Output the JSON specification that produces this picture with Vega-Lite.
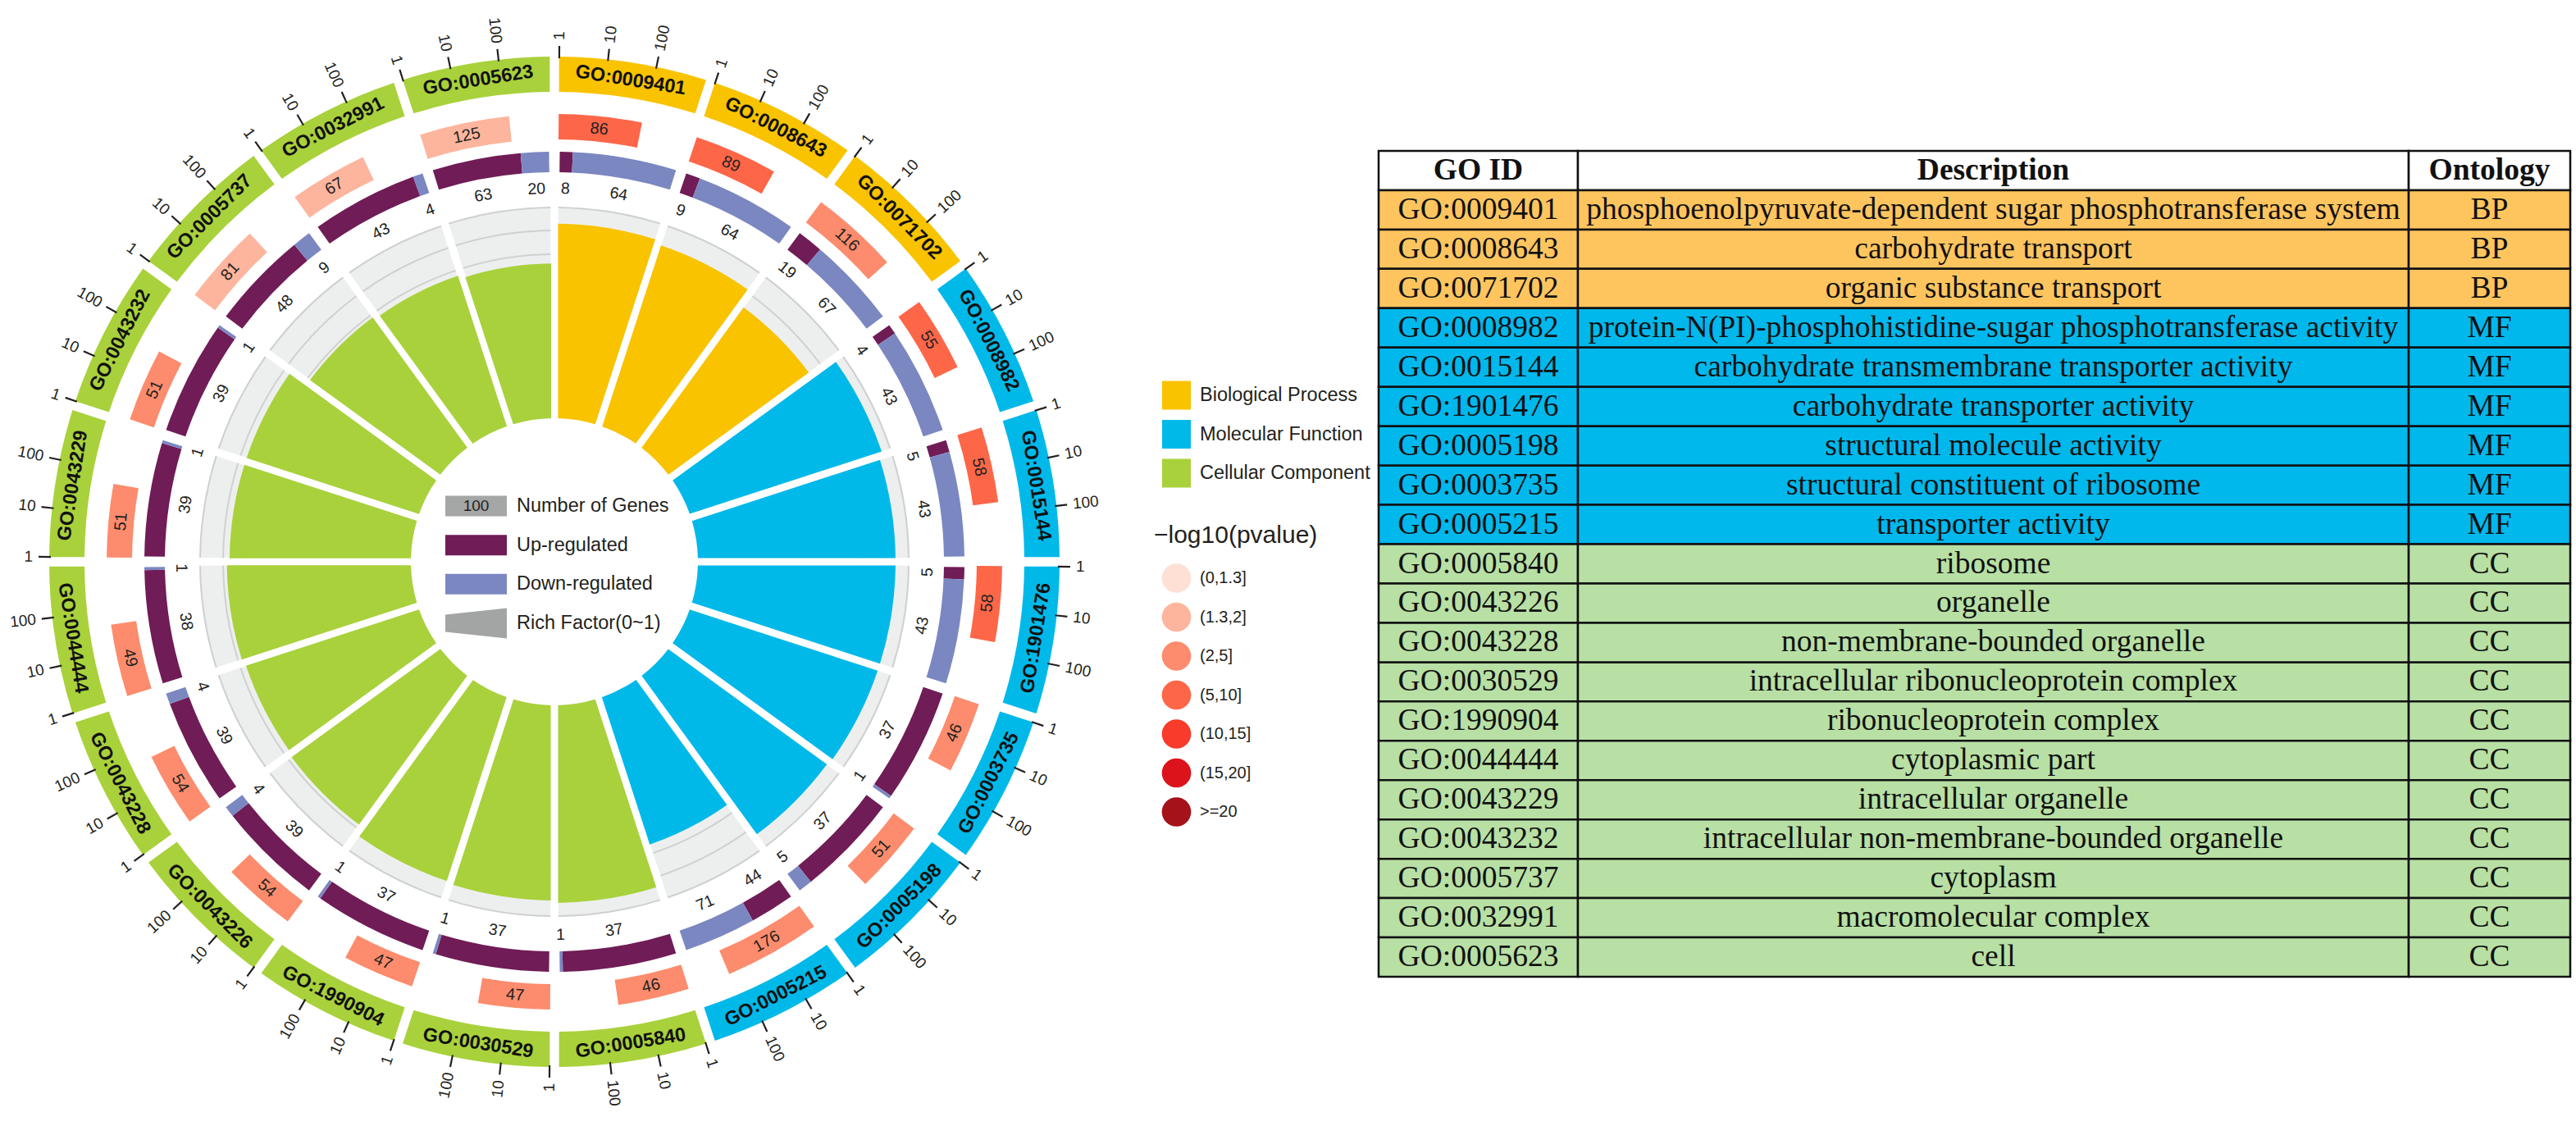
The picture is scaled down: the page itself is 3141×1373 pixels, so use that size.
{
"$schema":"https://vega.github.io/schema/vega-lite/v6.json",
"padding":0,"spacing":0,"bounds":"flush","background":"#ffffff",
"config":{"view":{"stroke":null},"text":{"font":"Liberation Sans"}},
"datasets":{
"terms":[
{"idx":0,"go":"GO:0009401","ont":"BP","count":86,"up":8,"down":64,"rich":0.93,"p":"(5,10]","desc":"phosphoenolpyruvate-dependent sugar phosphotransferase system"},
{"idx":1,"go":"GO:0008643","ont":"BP","count":89,"up":9,"down":64,"rich":0.91,"p":"(5,10]","desc":"carbohydrate transport"},
{"idx":2,"go":"GO:0071702","ont":"BP","count":116,"up":19,"down":67,"rich":0.83,"p":"(2,5]","desc":"organic substance transport"},
{"idx":3,"go":"GO:0008982","ont":"MF","count":55,"up":4,"down":43,"rich":0.965,"p":"(5,10]","desc":"protein-N(PI)-phosphohistidine-sugar phosphotransferase activity"},
{"idx":4,"go":"GO:0015144","ont":"MF","count":58,"up":5,"down":43,"rich":0.945,"p":"(5,10]","desc":"carbohydrate transmembrane transporter activity"},
{"idx":5,"go":"GO:1901476","ont":"MF","count":58,"up":5,"down":43,"rich":0.945,"p":"(5,10]","desc":"carbohydrate transporter activity"},
{"idx":6,"go":"GO:0003735","ont":"MF","count":46,"up":37,"down":1,"rich":0.945,"p":"(2,5]","desc":"structural constituent of ribosome"},
{"idx":7,"go":"GO:0005198","ont":"MF","count":51,"up":37,"down":5,"rich":0.937,"p":"(2,5]","desc":"structural molecule activity"},
{"idx":8,"go":"GO:0005215","ont":"MF","count":176,"up":44,"down":71,"rich":0.74,"p":"(2,5]","desc":"transporter activity"},
{"idx":9,"go":"GO:0005840","ont":"CC","count":46,"up":37,"down":1,"rich":0.945,"p":"(2,5]","desc":"ribosome"},
{"idx":10,"go":"GO:0030529","ont":"CC","count":47,"up":37,"down":1,"rich":0.933,"p":"(2,5]","desc":"intracellular ribonucleoprotein complex"},
{"idx":11,"go":"GO:1990904","ont":"CC","count":47,"up":37,"down":1,"rich":0.925,"p":"(2,5]","desc":"ribonucleoprotein complex"},
{"idx":12,"go":"GO:0043226","ont":"CC","count":54,"up":39,"down":4,"rich":0.88,"p":"(2,5]","desc":"organelle"},
{"idx":13,"go":"GO:0043228","ont":"CC","count":54,"up":39,"down":4,"rich":0.87,"p":"(2,5]","desc":"non-membrane-bounded organelle"},
{"idx":14,"go":"GO:0044444","ont":"CC","count":49,"up":38,"down":1,"rich":0.88,"p":"(2,5]","desc":"cytoplasmic part"},
{"idx":15,"go":"GO:0043229","ont":"CC","count":51,"up":39,"down":1,"rich":0.867,"p":"(2,5]","desc":"intracellular organelle"},
{"idx":16,"go":"GO:0043232","ont":"CC","count":51,"up":39,"down":1,"rich":0.867,"p":"(2,5]","desc":"intracellular non-membrane-bounded organelle"},
{"idx":17,"go":"GO:0005737","ont":"CC","count":81,"up":48,"down":9,"rich":0.77,"p":"(1.3,2]","desc":"cytoplasm"},
{"idx":18,"go":"GO:0032991","ont":"CC","count":67,"up":43,"down":4,"rich":0.757,"p":"(1.3,2]","desc":"macromolecular complex"},
{"idx":19,"go":"GO:0005623","ont":"CC","count":125,"up":63,"down":20,"rich":0.74,"p":"(1.3,2]","desc":"cell"}
],
"ticks":[
{"idx":0,"v":1},{"idx":0,"v":10},{"idx":0,"v":100},{"idx":1,"v":1},{"idx":1,"v":10},{"idx":1,"v":100},
{"idx":2,"v":1},{"idx":2,"v":10},{"idx":2,"v":100},{"idx":3,"v":1},{"idx":3,"v":10},{"idx":3,"v":100},
{"idx":4,"v":1},{"idx":4,"v":10},{"idx":4,"v":100},{"idx":5,"v":1},{"idx":5,"v":10},{"idx":5,"v":100},
{"idx":6,"v":1},{"idx":6,"v":10},{"idx":6,"v":100},{"idx":7,"v":1},{"idx":7,"v":10},{"idx":7,"v":100},
{"idx":8,"v":1},{"idx":8,"v":10},{"idx":8,"v":100},{"idx":9,"v":1},{"idx":9,"v":10},{"idx":9,"v":100},
{"idx":10,"v":1},{"idx":10,"v":10},{"idx":10,"v":100},{"idx":11,"v":1},{"idx":11,"v":10},{"idx":11,"v":100},
{"idx":12,"v":1},{"idx":12,"v":10},{"idx":12,"v":100},{"idx":13,"v":1},{"idx":13,"v":10},{"idx":13,"v":100},
{"idx":14,"v":1},{"idx":14,"v":10},{"idx":14,"v":100},{"idx":15,"v":1},{"idx":15,"v":10},{"idx":15,"v":100},
{"idx":16,"v":1},{"idx":16,"v":10},{"idx":16,"v":100},{"idx":17,"v":1},{"idx":17,"v":10},{"idx":17,"v":100},
{"idx":18,"v":1},{"idx":18,"v":10},{"idx":18,"v":100},{"idx":19,"v":1},{"idx":19,"v":10},{"idx":19,"v":100}
],
"ileg":[{"item":"Number of Genes"},{"item":"Up-regulated"},{"item":"Down-regulated"},{"item":"Rich Factor(0~1)"}],
"oleg":[{"ont":"BP","lab":"Biological Process"},{"ont":"MF","lab":"Molecular Function"},{"ont":"CC","lab":"Cellular Component"}],
"pleg":[{"p":"(0,1.3]"},{"p":"(1.3,2]"},{"p":"(2,5]"},{"p":"(5,10]"},{"p":"(10,15]"},{"p":"(15,20]"},{"p":">=20"}],
"ptitle":[{"t":"−log10(pvalue)"}],
"hdr":[{"go":"header","c1":"GO ID","c2":"Description","c3":"Ontology"}]
},
"hconcat":[
{
"width":1352,"height":1370,
"layer":[
{
"data":{"name":"terms"},
"transform":[
{"calculate":"datum.idx*18","as":"b0"},
{"calculate":"datum.idx*18+18","as":"b1"},
{"calculate":"datum.idx*18+9","as":"mid"},
{"calculate":"datum.idx*18+0.75","as":"rs"},
{"calculate":"datum.idx*18+17.25","as":"re"},
{"calculate":"datum.rs+16.5*datum.up/(datum.up+datum.down)","as":"um"},
{"calculate":"(datum.rs+datum.um)/2","as":"upm"},
{"calculate":"(datum.um+datum.re)/2","as":"dnm"},
{"calculate":"datum.idx*18+0.55","as":"c0"},
{"calculate":"datum.c0+5.55*log(datum.count)/LN10","as":"c1"},
{"calculate":"(datum.c0+datum.c1)/2","as":"cm"},
{"calculate":"(datum.mid>90 && datum.mid<270) ? datum.mid+180 : datum.mid","as":"amid0"},
{"calculate":"(datum.cm>90 && datum.cm<270) ? datum.cm+180 : datum.cm","as":"acm0"},
{"calculate":"(datum.upm>90 && datum.upm<270) ? datum.upm+180 : datum.upm","as":"aup0"},
{"calculate":"(datum.dnm>90 && datum.dnm<270) ? datum.dnm+180 : datum.dnm","as":"adn0"},
{"calculate":"datum.amid0%360","as":"amid"},
{"calculate":"datum.acm0%360","as":"acm"},
{"calculate":"datum.aup0%360","as":"aup"},
{"calculate":"datum.adn0%360","as":"adn"}
],
"layer":[
{"mark":{"type":"arc","color":"#EDEFEF","padAngle":0.02,"radius":433,"radius2":175},
"encoding":{"theta":{"field":"b0","type":"quantitative","scale":{"domain":[0,360],"range":[0,6.283185307179586],"nice":false,"zero":false},"stack":null},"theta2":{"field":"b1"}}},
{"mark":{"type":"arc","color":"#CFD1D1","padAngle":0.018,"radius":376,"radius2":374},
"encoding":{"theta":{"field":"b0","type":"quantitative","scale":{"domain":[0,360],"range":[0,6.283185307179586],"nice":false,"zero":false},"stack":null},"theta2":{"field":"b1"}}},
{"mark":{"type":"arc","color":"#CFD1D1","padAngle":0.017,"radius":405,"radius2":403},
"encoding":{"theta":{"field":"b0","type":"quantitative","scale":{"domain":[0,360],"range":[0,6.283185307179586],"nice":false,"zero":false},"stack":null},"theta2":{"field":"b1"}}},
{"mark":{"type":"arc","color":"#CFD1D1","padAngle":0.016,"radius":433,"radius2":431},
"encoding":{"theta":{"field":"b0","type":"quantitative","scale":{"domain":[0,360],"range":[0,6.283185307179586],"nice":false,"zero":false},"stack":null},"theta2":{"field":"b1"}}},
{"mark":{"type":"arc","padAngle":0.02,"radius2":175},
"encoding":{"theta":{"field":"b0","type":"quantitative","scale":{"domain":[0,360],"range":[0,6.283185307179586],"nice":false,"zero":false},"stack":null},"theta2":{"field":"b1"},
"radius":{"field":"rich","type":"quantitative","scale":{"type":"linear","domain":[0,1],"range":[175,430],"nice":false,"zero":false},"stack":null},
"color":{"field":"ont","type":"nominal","scale":{"domain":["BP","MF","CC"],"range":["#F9C300","#00B9E9","#A9D13B"]},"legend":null}}},
{"mark":{"type":"arc","color":"#701C56","radius":500,"radius2":475},
"encoding":{"theta":{"field":"rs","type":"quantitative","scale":{"domain":[0,360],"range":[0,6.283185307179586],"nice":false,"zero":false},"stack":null},"theta2":{"field":"um"}}},
{"mark":{"type":"arc","color":"#7B87C1","radius":500,"radius2":475},
"encoding":{"theta":{"field":"um","type":"quantitative","scale":{"domain":[0,360],"range":[0,6.283185307179586],"nice":false,"zero":false},"stack":null},"theta2":{"field":"re"}}},
{"mark":{"type":"arc","radius":546,"radius2":515},
"encoding":{"theta":{"field":"c0","type":"quantitative","scale":{"domain":[0,360],"range":[0,6.283185307179586],"nice":false,"zero":false},"stack":null},"theta2":{"field":"c1"},
"color":{"field":"p","type":"nominal","scale":{"domain":["(0,1.3]","(1.3,2]","(2,5]","(5,10]","(10,15]","(15,20]",">=20"],"range":["#FEE0D4","#FDB59D","#FC8C6D","#FE6648","#F83B2B","#DC131A","#A51219"]},"legend":null}}},
{"mark":{"type":"arc","padAngle":0.0135,"radius":616,"radius2":573},
"encoding":{"theta":{"field":"b0","type":"quantitative","scale":{"domain":[0,360],"range":[0,6.283185307179586],"nice":false,"zero":false},"stack":null},"theta2":{"field":"b1"},
"color":{"field":"ont","type":"nominal","scale":{"domain":["BP","MF","CC"],"range":["#F9C300","#00B9E9","#A9D13B"]},"legend":null}}},
{"mark":{"type":"text","radius":594.5,"fontSize":23.5,"fontWeight":"bold","align":"center","baseline":"middle","color":"#111111"},
"encoding":{"theta":{"field":"mid","type":"quantitative","scale":{"domain":[0,360],"range":[0,6.283185307179586],"nice":false,"zero":false},"stack":null},
"angle":{"field":"amid","type":"quantitative","scale":{"domain":[0,360],"range":[0,360],"nice":false,"zero":false}},"text":{"field":"go","type":"nominal"}}},
{"mark":{"type":"text","radius":530.5,"fontSize":20,"align":"center","baseline":"middle","color":"#222222"},
"encoding":{"theta":{"field":"cm","type":"quantitative","scale":{"domain":[0,360],"range":[0,6.283185307179586],"nice":false,"zero":false},"stack":null},
"angle":{"field":"acm","type":"quantitative","scale":{"domain":[0,360],"range":[0,360],"nice":false,"zero":false}},"text":{"field":"count","type":"nominal"}}},
{"mark":{"type":"text","radius":455,"fontSize":19.5,"align":"center","baseline":"middle","color":"#222222"},
"encoding":{"theta":{"field":"upm","type":"quantitative","scale":{"domain":[0,360],"range":[0,6.283185307179586],"nice":false,"zero":false},"stack":null},
"angle":{"field":"aup","type":"quantitative","scale":{"domain":[0,360],"range":[0,360],"nice":false,"zero":false}},"text":{"field":"up","type":"nominal"}}},
{"mark":{"type":"text","radius":455,"fontSize":19.5,"align":"center","baseline":"middle","color":"#222222"},
"encoding":{"theta":{"field":"dnm","type":"quantitative","scale":{"domain":[0,360],"range":[0,6.283185307179586],"nice":false,"zero":false},"stack":null},
"angle":{"field":"adn","type":"quantitative","scale":{"domain":[0,360],"range":[0,360],"nice":false,"zero":false}},"text":{"field":"down","type":"nominal"}}}
],
"resolve":{"scale":{"color":"independent"}}
},
{"data":{"name":"ticks"},
"transform":[{"calculate":"datum.idx*18+0.55+5.55*log(datum.v)/LN10","as":"a"},{"calculate":"datum.a-0.1","as":"a0"},{"calculate":"datum.a+0.1","as":"a1"}],
"mark":{"type":"arc","color":"#231F20","radius":629,"radius2":614},
"encoding":{"theta":{"field":"a0","type":"quantitative","scale":{"domain":[0,360],"range":[0,6.283185307179586],"nice":false,"zero":false},"stack":null},"theta2":{"field":"a1"}}},
{"data":{"name":"ticks"},
"transform":[{"calculate":"datum.idx*18+0.55+5.55*log(datum.v)/LN10","as":"a"},{"filter":"datum.a<=180"},{"calculate":"(datum.a+270)%360","as":"ta"}],
"mark":{"type":"text","radius":636,"fontSize":19,"align":"left","baseline":"middle","color":"#231F20"},
"encoding":{"theta":{"field":"a","type":"quantitative","scale":{"domain":[0,360],"range":[0,6.283185307179586],"nice":false,"zero":false},"stack":null},
"angle":{"field":"ta","type":"quantitative","scale":{"domain":[0,360],"range":[0,360],"nice":false,"zero":false}},"text":{"field":"v","type":"nominal"}}},
{"data":{"name":"ticks"},
"transform":[{"calculate":"datum.idx*18+0.55+5.55*log(datum.v)/LN10","as":"a"},{"filter":"datum.a>180"},{"calculate":"(datum.a+90)%360","as":"ta"}],
"mark":{"type":"text","radius":636,"fontSize":19,"align":"right","baseline":"middle","color":"#231F20"},
"encoding":{"theta":{"field":"a","type":"quantitative","scale":{"domain":[0,360],"range":[0,6.283185307179586],"nice":false,"zero":false},"stack":null},
"angle":{"field":"ta","type":"quantitative","scale":{"domain":[0,360],"range":[0,360],"nice":false,"zero":false}},"text":{"field":"v","type":"nominal"}}},
{"data":{"name":"ileg"},
"mark":{"type":"point","filled":true,"opacity":1,"size":2500},
"encoding":{"x":{"datum":580.5,"type":"quantitative","scale":{"domain":[0,1352],"nice":false,"zero":false},"axis":null},
"y":{"field":"item","type":"nominal","scale":{"type":"point","domain":["Number of Genes","Up-regulated","Down-regulated","Rich Factor(0~1)"],"range":[617,760],"padding":0},"axis":null},
"shape":{"field":"item","type":"nominal","scale":{"domain":["Number of Genes","Up-regulated","Down-regulated","Rich Factor(0~1)"],"range":["M-1.5,-0.5H1.5V0.5H-1.5Z","M-1.5,-0.5H1.5V0.5H-1.5Z","M-1.5,-0.5H1.5V0.5H-1.5Z","M-1.5,-0.42L1.5,-0.74L1.5,0.74L-1.5,0.42Z"]},"legend":null},
"color":{"field":"item","type":"nominal","scale":{"domain":["Number of Genes","Up-regulated","Down-regulated","Rich Factor(0~1)"],"range":["#A5A6A6","#701C56","#7B87C1","#A3A5A5"]},"legend":null}}},
{"data":{"name":"ileg"},
"mark":{"type":"text","fontSize":23.5,"align":"left","baseline":"middle","color":"#231F20"},
"encoding":{"x":{"datum":630,"type":"quantitative","scale":{"domain":[0,1352],"nice":false,"zero":false},"axis":null},
"y":{"field":"item","type":"nominal","scale":{"type":"point","domain":["Number of Genes","Up-regulated","Down-regulated","Rich Factor(0~1)"],"range":[617,760],"padding":0},"axis":null},
"text":{"field":"item","type":"nominal"}}},
{"data":{"name":"ileg"},
"transform":[{"filter":"datum.item==='Number of Genes'"}],
"mark":{"type":"text","fontSize":19,"align":"center","baseline":"middle","color":"#231F20"},
"encoding":{"x":{"datum":580.5,"type":"quantitative","scale":{"domain":[0,1352],"nice":false,"zero":false},"axis":null},
"y":{"field":"item","type":"nominal","scale":{"type":"point","domain":["Number of Genes","Up-regulated","Down-regulated","Rich Factor(0~1)"],"range":[617,760],"padding":0},"axis":null},
"text":{"value":"100"}}}
],
"resolve":{"scale":{"color":"independent"}}
},
{
"width":329,"height":1373,
"layer":[
{"data":{"name":"oleg"},
"mark":{"type":"point","filled":true,"opacity":1,"size":1225,"shape":"square"},
"encoding":{"x":{"datum":82.5,"type":"quantitative","scale":{"domain":[0,329],"nice":false,"zero":false},"axis":null},
"y":{"field":"lab","type":"nominal","scale":{"type":"point","domain":["Biological Process","Molecular Function","Cellular Component"],"range":[482,577],"padding":0},"axis":null},
"color":{"field":"ont","type":"nominal","scale":{"domain":["BP","MF","CC"],"range":["#F9C300","#00B9E9","#A9D13B"]},"legend":null}}},
{"data":{"name":"oleg"},
"mark":{"type":"text","fontSize":23.5,"align":"left","baseline":"middle","color":"#231F20"},
"encoding":{"x":{"datum":111,"type":"quantitative","scale":{"domain":[0,329],"nice":false,"zero":false},"axis":null},
"y":{"field":"lab","type":"nominal","scale":{"type":"point","domain":["Biological Process","Molecular Function","Cellular Component"],"range":[482,577],"padding":0},"axis":null},
"text":{"field":"lab","type":"nominal"}}},
{"data":{"name":"ptitle"},
"mark":{"type":"text","fontSize":30,"align":"left","baseline":"middle","color":"#231F20"},
"encoding":{"x":{"datum":55,"type":"quantitative","scale":{"domain":[0,329],"nice":false,"zero":false},"axis":null},
"y":{"field":"t","type":"nominal","scale":{"type":"point","domain":["−log10(pvalue)"],"range":[653,653],"padding":0},"axis":null},
"text":{"field":"t","type":"nominal"}}},
{"data":{"name":"pleg"},
"mark":{"type":"point","filled":true,"opacity":1,"size":1275,"shape":"circle"},
"encoding":{"x":{"datum":82.5,"type":"quantitative","scale":{"domain":[0,329],"nice":false,"zero":false},"axis":null},
"y":{"field":"p","type":"nominal","scale":{"type":"point","domain":["(0,1.3]","(1.3,2]","(2,5]","(5,10]","(10,15]","(15,20]",">=20"],"range":[705,990],"padding":0},"axis":null},
"color":{"field":"p","type":"nominal","scale":{"domain":["(0,1.3]","(1.3,2]","(2,5]","(5,10]","(10,15]","(15,20]",">=20"],"range":["#FEE0D4","#FDB59D","#FC8C6D","#FE6648","#F83B2B","#DC131A","#A51219"]},"legend":null}}},
{"data":{"name":"pleg"},
"mark":{"type":"text","fontSize":20,"align":"left","baseline":"middle","color":"#231F20"},
"encoding":{"x":{"datum":111,"type":"quantitative","scale":{"domain":[0,329],"nice":false,"zero":false},"axis":null},
"y":{"field":"p","type":"nominal","scale":{"type":"point","domain":["(0,1.3]","(1.3,2]","(2,5]","(5,10]","(10,15]","(15,20]",">=20"],"range":[705,990],"padding":0},"axis":null},
"text":{"field":"p","type":"nominal"}}}
],
"resolve":{"scale":{"color":"independent","y":"independent"}}
},
{
"width":1460,"height":1373,
"layer":[
{"data":{"name":"hdr"},"mark":{"type":"rect","color":"#FFFFFF","stroke":"#111111","strokeWidth":2.5},
"encoding":{"x":{"datum":0,"type":"quantitative","scale":{"domain":[0,1460],"nice":false,"zero":false},"axis":null},"x2":{"datum":243},
"y":{"field":"go","type":"nominal","scale":{"type":"band","domain":["header","GO:0009401","GO:0008643","GO:0071702","GO:0008982","GO:0015144","GO:1901476","GO:0005198","GO:0003735","GO:0005215","GO:0005840","GO:0043226","GO:0043228","GO:0030529","GO:1990904","GO:0044444","GO:0043229","GO:0043232","GO:0005737","GO:0032991","GO:0005623"],"range":[184,1191],"paddingInner":0,"paddingOuter":0},"axis":null}}},
{"data":{"name":"hdr"},"mark":{"type":"rect","color":"#FFFFFF","stroke":"#111111","strokeWidth":2.5},
"encoding":{"x":{"datum":243,"type":"quantitative"},"x2":{"datum":1256},"y":{"field":"go","type":"nominal"}}},
{"data":{"name":"hdr"},"mark":{"type":"rect","color":"#FFFFFF","stroke":"#111111","strokeWidth":2.5},
"encoding":{"x":{"datum":1256,"type":"quantitative"},"x2":{"datum":1453},"y":{"field":"go","type":"nominal"}}},
{"data":{"name":"terms"},"mark":{"type":"rect","stroke":"#111111","strokeWidth":2.5},
"encoding":{"x":{"datum":0,"type":"quantitative"},"x2":{"datum":243},"y":{"field":"go","type":"nominal"},
"color":{"field":"ont","type":"nominal","scale":{"domain":["BP","MF","CC"],"range":["#FEC55F","#00B8EC","#B8E0A4"]},"legend":null}}},
{"data":{"name":"terms"},"mark":{"type":"rect","stroke":"#111111","strokeWidth":2.5},
"encoding":{"x":{"datum":243,"type":"quantitative"},"x2":{"datum":1256},"y":{"field":"go","type":"nominal"},
"color":{"field":"ont","type":"nominal","legend":null}}},
{"data":{"name":"terms"},"mark":{"type":"rect","stroke":"#111111","strokeWidth":2.5},
"encoding":{"x":{"datum":1256,"type":"quantitative"},"x2":{"datum":1453},"y":{"field":"go","type":"nominal"},
"color":{"field":"ont","type":"nominal","legend":null}}},
{"data":{"name":"hdr"},"mark":{"type":"text","font":"Liberation Serif","fontSize":37.5,"fontWeight":"bold","align":"center","baseline":"middle","color":"#111111"},
"encoding":{"x":{"datum":121.5,"type":"quantitative"},"y":{"field":"go","type":"nominal"},"text":{"field":"c1","type":"nominal"}}},
{"data":{"name":"hdr"},"mark":{"type":"text","font":"Liberation Serif","fontSize":37.5,"fontWeight":"bold","align":"center","baseline":"middle","color":"#111111"},
"encoding":{"x":{"datum":749.5,"type":"quantitative"},"y":{"field":"go","type":"nominal"},"text":{"field":"c2","type":"nominal"}}},
{"data":{"name":"hdr"},"mark":{"type":"text","font":"Liberation Serif","fontSize":37.5,"fontWeight":"bold","align":"center","baseline":"middle","color":"#111111"},
"encoding":{"x":{"datum":1354.5,"type":"quantitative"},"y":{"field":"go","type":"nominal"},"text":{"field":"c3","type":"nominal"}}},
{"data":{"name":"terms"},"mark":{"type":"text","font":"Liberation Serif","fontSize":37.5,"align":"center","baseline":"middle","color":"#111111"},
"encoding":{"x":{"datum":121.5,"type":"quantitative"},"y":{"field":"go","type":"nominal"},"text":{"field":"go","type":"nominal"}}},
{"data":{"name":"terms"},"mark":{"type":"text","font":"Liberation Serif","fontSize":37.5,"align":"center","baseline":"middle","color":"#111111"},
"encoding":{"x":{"datum":749.5,"type":"quantitative"},"y":{"field":"go","type":"nominal"},"text":{"field":"desc","type":"nominal"}}},
{"data":{"name":"terms"},"mark":{"type":"text","font":"Liberation Serif","fontSize":37.5,"align":"center","baseline":"middle","color":"#111111"},
"encoding":{"x":{"datum":1354.5,"type":"quantitative"},"y":{"field":"go","type":"nominal"},"text":{"field":"ont","type":"nominal"}}}
]
}
]
}
